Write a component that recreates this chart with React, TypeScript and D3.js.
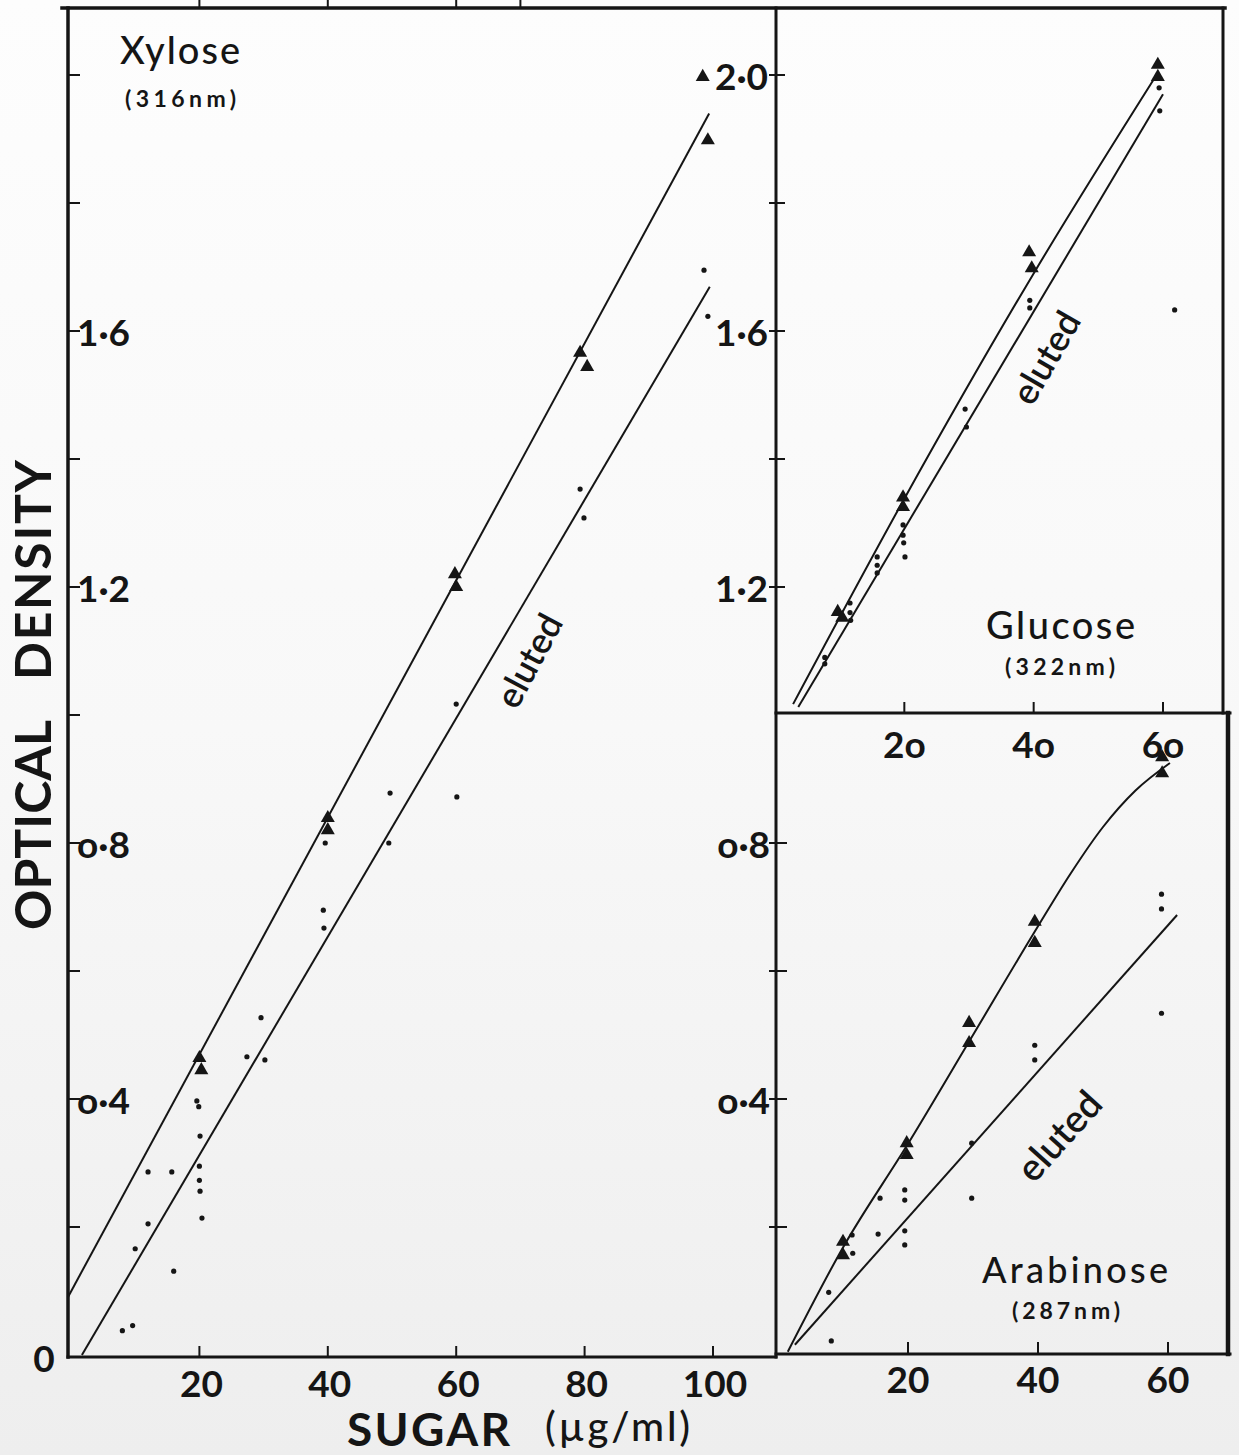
import React from "react";
import * as d3 from "d3";

const W = 1239;
const H = 1455;

type P = [number, number];

// ---------------- Xylose (316 nm) ----------------
const xyloseTriangles: P[] = [
  [20, 0.464], [20.3, 0.445], [40, 0.839], [40, 0.82], [59.8, 1.22], [60, 1.2],
  [79.3, 1.566], [80.4, 1.544], [98.4, 1.997], [99.2, 1.898],
];
const xyloseDots: P[] = [
  [8, 0.038], [9.6, 0.046], [10, 0.166], [12, 0.205], [12, 0.286], [15.7, 0.286], [16, 0.131],
  [19.6, 0.397], [19.9, 0.388], [20.1, 0.342], [20, 0.295], [20, 0.273], [20.1, 0.256], [20.4, 0.214],
  [27.4, 0.466], [29.6, 0.527], [30.2, 0.461],
  [39.6, 0.8], [39.3, 0.695], [39.4, 0.667],
  [49.7, 0.878], [49.5, 0.8],
  [60, 1.017], [60.1, 0.872],
  [79.3, 1.353], [79.9, 1.308],
  [98.6, 1.695], [99.2, 1.623],
];
const xyloseDirectLine: P[] = [[-0.5, 0.09], [99.4, 1.94]];
const xyloseElutedLine: P[] = [[1.7, 0.0], [99.5, 1.669]];

// ---------------- Glucose (322 nm) ----------------
const glucoseTriangles: P[] = [
  [9.7, 1.161], [10.4, 1.152], [19.8, 1.34], [19.8, 1.325],
  [39.3, 1.723], [39.7, 1.698], [59.2, 2.016], [59.2, 1.997],
];
const glucoseDots: P[] = [
  [7.7, 1.09], [7.7, 1.08], [11.6, 1.175], [11.6, 1.16], [11.7, 1.148],
  [15.8, 1.247], [15.8, 1.234], [15.8, 1.222],
  [19.8, 1.297], [19.8, 1.281], [19.9, 1.269], [20.1, 1.247],
  [29.4, 1.478], [29.6, 1.45], [39.4, 1.648], [39.4, 1.636],
  [59.4, 1.98], [59.5, 1.944], [61.8, 1.633],
];
const glucoseDirectLine: P[] = [[2.8, 1.017], [20, 1.338], [40, 1.69], [59, 2.0]];
const glucoseElutedLine: P[] = [[3.6, 1.0125], [60, 1.97]];

// ---------------- Arabinose (287 nm) ----------------
const arabinoseTriangles: P[] = [
  [10, 0.177], [10, 0.156], [19.8, 0.331], [19.8, 0.3125], [29.4, 0.519], [29.4, 0.4875],
  [39.5, 0.677], [39.5, 0.644], [59.1, 0.934], [59.1, 0.909],
];
const arabinoseDots: P[] = [
  [7.8, 0.098], [8.2, 0.022], [11.5, 0.159], [11.4, 0.1875], [15.7, 0.245], [15.4, 0.189],
  [19.5, 0.258], [19.5, 0.242], [19.5, 0.194], [19.5, 0.172],
  [29.8, 0.331], [29.8, 0.245], [39.5, 0.484], [39.5, 0.461],
  [59, 0.72], [59, 0.697], [59, 0.534],
];
const arabinoseDirectLine: P[] = [
  [1.5, 0.005], [10, 0.168], [20, 0.33], [30, 0.5], [40, 0.67], [45, 0.752], [50, 0.825], [55, 0.882], [60.3, 0.925],
];
const arabinoseElutedLine: P[] = [[2.6, 0.016], [61.4, 0.6875]];

// ---------------- ticks ----------------
const xyloseYTicks = [0.2, 0.4, 0.6, 0.8, 1.0, 1.2, 1.4, 1.6, 1.8, 2.0];
const xyloseYLabelValues = [0.4, 0.8, 1.2, 1.6];
const xyloseYLabels = ["o·4", "o·8", "1·2", "1·6"];
const xyloseXTicks = [20, 40, 60, 80, 100];
const xyloseXLabels = ["20", "40", "60", "80", "100"];
const topStubTicks = [20, 40, 60, 70];

const glucoseYTicks = [1.2, 1.4, 1.6, 1.8, 2.0];
const glucoseYLabelValues = [1.2, 1.6, 2.0];
const glucoseYLabels = ["1·2", "1·6", "2·0"];
const glucoseXTicks = [20, 40, 60];
const glucoseXLabels = ["2o", "4o", "6o"];

const arabinoseYTicks = [0.2, 0.4, 0.6, 0.8];
const arabinoseYLabelValues = [0.4, 0.8];
const arabinoseYLabels = ["o·4", "o·8"];
const arabinoseXTicks = [20, 40, 60];
const arabinoseXLabels = ["20", "40", "60"];

const FONT = "Lato, 'Open Sans', 'DejaVu Sans', sans-serif";
const INK = "#151515";

export default function App() {
  const y = d3.scaleLinear().domain([0, 2]).range([1355, 75]);
  const xX = d3.scaleLinear().domain([0, 100]).range([71, 713]);
  const gX = d3.scaleLinear().domain([0, 60]).range([775, 1163]);
  const aX = d3.scaleLinear().domain([0, 60]).range([778, 1168]);

  const tri = d3.symbol().type(d3.symbolTriangle).size(85)() as string;

  const lineFor = (sx: d3.ScaleLinear<number, number>, curved: boolean) =>
    d3
      .line<P>()
      .x((d) => sx(d[0]))
      .y((d) => y(d[1]))
      .curve(curved ? d3.curveMonotoneX : d3.curveLinear);

  const marks = (sx: d3.ScaleLinear<number, number>, tris: P[], dots: P[], key: string) => (
    <g>
      {tris.map((d, i) => (
        <path key={key + "t" + i} d={tri} transform={`translate(${sx(d[0])},${y(d[1])})`} fill={INK} />
      ))}
      {dots.map((d, i) => (
        <circle key={key + "d" + i} cx={sx(d[0])} cy={y(d[1])} r={2.6} fill={INK} />
      ))}
    </g>
  );

  // frame geometry
  const xyLeft = 68, xyBottom = 1357, topY = 8, divX = 776;
  const gRight = 1223, divY = 713, aRight = 1228, aBottom = 1354;

  const tickLabelStyle = { fontFamily: FONT, fontSize: 37, fontWeight: 700, fill: INK } as const;

  return (
    <svg
      width={W}
      height={H}
      viewBox={`0 0 ${W} ${H}`}
      style={{ position: "absolute", left: 0, top: 0, display: "block" }}
    >
      <defs>
        <linearGradient id="paper" x1="0" y1="0" x2="0" y2="1">
          <stop offset="0" stopColor="#fdfdfd" />
          <stop offset="0.5" stopColor="#f8f8f8" />
          <stop offset="1" stopColor="#eeeeee" />
        </linearGradient>
      </defs>
      <rect x={0} y={0} width={W} height={H} fill="url(#paper)" />

      {/* frame */}
      <g stroke={INK} fill="none" strokeLinecap="square">
        <line x1={62} y1={topY} x2={gRight + 2} y2={topY} strokeWidth={3.5} />
        <line x1={xyLeft} y1={topY} x2={xyLeft} y2={xyBottom} strokeWidth={3.5} />
        <line x1={xyLeft} y1={xyBottom} x2={divX} y2={xyBottom} strokeWidth={3} />
        <line x1={divX} y1={topY} x2={divX} y2={xyBottom} strokeWidth={3} />
        <line x1={gRight} y1={topY} x2={gRight} y2={divY} strokeWidth={3} />
        <line x1={divX} y1={divY} x2={aRight + 2} y2={divY} strokeWidth={3} />
        <line x1={aRight} y1={divY} x2={aRight} y2={aBottom} strokeWidth={4.5} />
        <line x1={divX} y1={aBottom} x2={aRight + 2} y2={aBottom} strokeWidth={3} />
        {topStubTicks.map((t) => (
          <line key={"stub" + t} x1={xX(t)} y1={0} x2={xX(t)} y2={topY} strokeWidth={2} />
        ))}
        {xyloseYTicks.map((t) => (
          <line key={"xyt" + t} x1={xyLeft} y1={y(t)} x2={xyLeft + 11} y2={y(t)} strokeWidth={2} />
        ))}
        {xyloseXTicks.map((t) => (
          <line key={"xxt" + t} x1={xX(t)} y1={xyBottom} x2={xX(t)} y2={xyBottom - 10} strokeWidth={2} />
        ))}
        {glucoseYTicks.map((t) => (
          <line key={"gyt" + t} x1={divX - 6} y1={y(t)} x2={divX + 8} y2={y(t)} strokeWidth={2} />
        ))}
        {glucoseXTicks.map((t) => (
          <line key={"gxt" + t} x1={gX(t)} y1={divY} x2={gX(t)} y2={divY - 10} strokeWidth={2} />
        ))}
        {arabinoseYTicks.map((t) => (
          <line key={"ayt" + t} x1={divX - 6} y1={y(t)} x2={divX + 10} y2={y(t)} strokeWidth={2} />
        ))}
        {arabinoseXTicks.map((t) => (
          <line key={"axt" + t} x1={aX(t)} y1={aBottom} x2={aX(t)} y2={aBottom - 11} strokeWidth={2} />
        ))}
      </g>

      {/* fitted lines */}
      <g stroke={INK} strokeWidth={2} fill="none">
        <path d={lineFor(xX, false)(xyloseDirectLine) as string} />
        <path d={lineFor(xX, false)(xyloseElutedLine) as string} />
        <path d={lineFor(gX, true)(glucoseDirectLine) as string} />
        <path d={lineFor(gX, false)(glucoseElutedLine) as string} />
        <path d={lineFor(aX, true)(arabinoseDirectLine) as string} />
        <path d={lineFor(aX, false)(arabinoseElutedLine) as string} />
      </g>

      {marks(xX, xyloseTriangles, xyloseDots, "x")}
      {marks(gX, glucoseTriangles, glucoseDots, "g")}
      {marks(aX, arabinoseTriangles, arabinoseDots, "a")}

      {/* tick labels */}
      <g style={tickLabelStyle}>
        <text x={44} y={1357} textAnchor="middle" dominantBaseline="central">0</text>
        {xyloseYLabelValues.map((v, i) => (
          <text key={"xyl" + i} x={xyLeft + 9} y={y(v)} dominantBaseline="central">{xyloseYLabels[i]}</text>
        ))}
        {xyloseXTicks.map((v, i) => (
          <text key={"xxl" + i} x={xX(v) + 2} y={1382} textAnchor="middle" dominantBaseline="central">{xyloseXLabels[i]}</text>
        ))}
        {glucoseYLabelValues.map((v, i) => (
          <text key={"gyl" + i} x={divX - 8} y={y(v)} textAnchor="end" dominantBaseline="central">{glucoseYLabels[i]}</text>
        ))}
        {glucoseXTicks.map((v, i) => (
          <text key={"gxl" + i} x={gX(v)} y={743} textAnchor="middle" dominantBaseline="central">{glucoseXLabels[i]}</text>
        ))}
        {arabinoseYLabelValues.map((v, i) => (
          <text key={"ayl" + i} x={divX - 6} y={y(v)} textAnchor="end" dominantBaseline="central">{arabinoseYLabels[i]}</text>
        ))}
        {arabinoseXTicks.map((v, i) => (
          <text key={"axl" + i} x={aX(v)} y={1378} textAnchor="middle" dominantBaseline="central">{arabinoseXLabels[i]}</text>
        ))}
      </g>

      {/* panel names */}
      <g style={{ fontFamily: FONT, fill: INK }}>
        <text x={120} y={64} fontSize={38} fontWeight={500} textLength={120}>Xylose</text>
        <text x={125} y={107} fontSize={23} fontWeight={700} textLength={111}>(316nm)</text>
        <text x={986} y={639} fontSize={38} fontWeight={500} textLength={149}>Glucose</text>
        <text x={1005} y={675} fontSize={23} fontWeight={700} textLength={110}>(322nm)</text>
        <text x={982} y={1283} fontSize={36} fontWeight={500} textLength={186}>Arabinose</text>
        <text x={1012} y={1319} fontSize={23} fontWeight={700} textLength={108}>(287nm)</text>

        <text transform="translate(528,660) rotate(-62)" textAnchor="middle" dominantBaseline="central" fontSize={36} fontWeight={600}>eluted</text>
        <text transform="translate(1045,357) rotate(-60)" textAnchor="middle" dominantBaseline="central" fontSize={36} fontWeight={600}>eluted</text>
        <text transform="translate(1058,1135) rotate(-48)" textAnchor="middle" dominantBaseline="central" fontSize={38} fontWeight={600}>eluted</text>
      </g>

      {/* axis titles */}
      <g style={{ fontFamily: FONT, fill: INK, fontWeight: 700 }}>
        <text transform="translate(51,930) rotate(-90)" fontSize={50} textLength={210}>OPTICAL</text>
        <text transform="translate(51,680) rotate(-90)" fontSize={50} textLength={220}>DENSITY</text>
        <text x={347} y={1446} fontSize={46} fontWeight={700} textLength={163}>SUGAR</text>
        <text x={545} y={1441} fontSize={40} fontWeight={500} textLength={145}>(µg/ml)</text>
      </g>
    </svg>
  );
}
